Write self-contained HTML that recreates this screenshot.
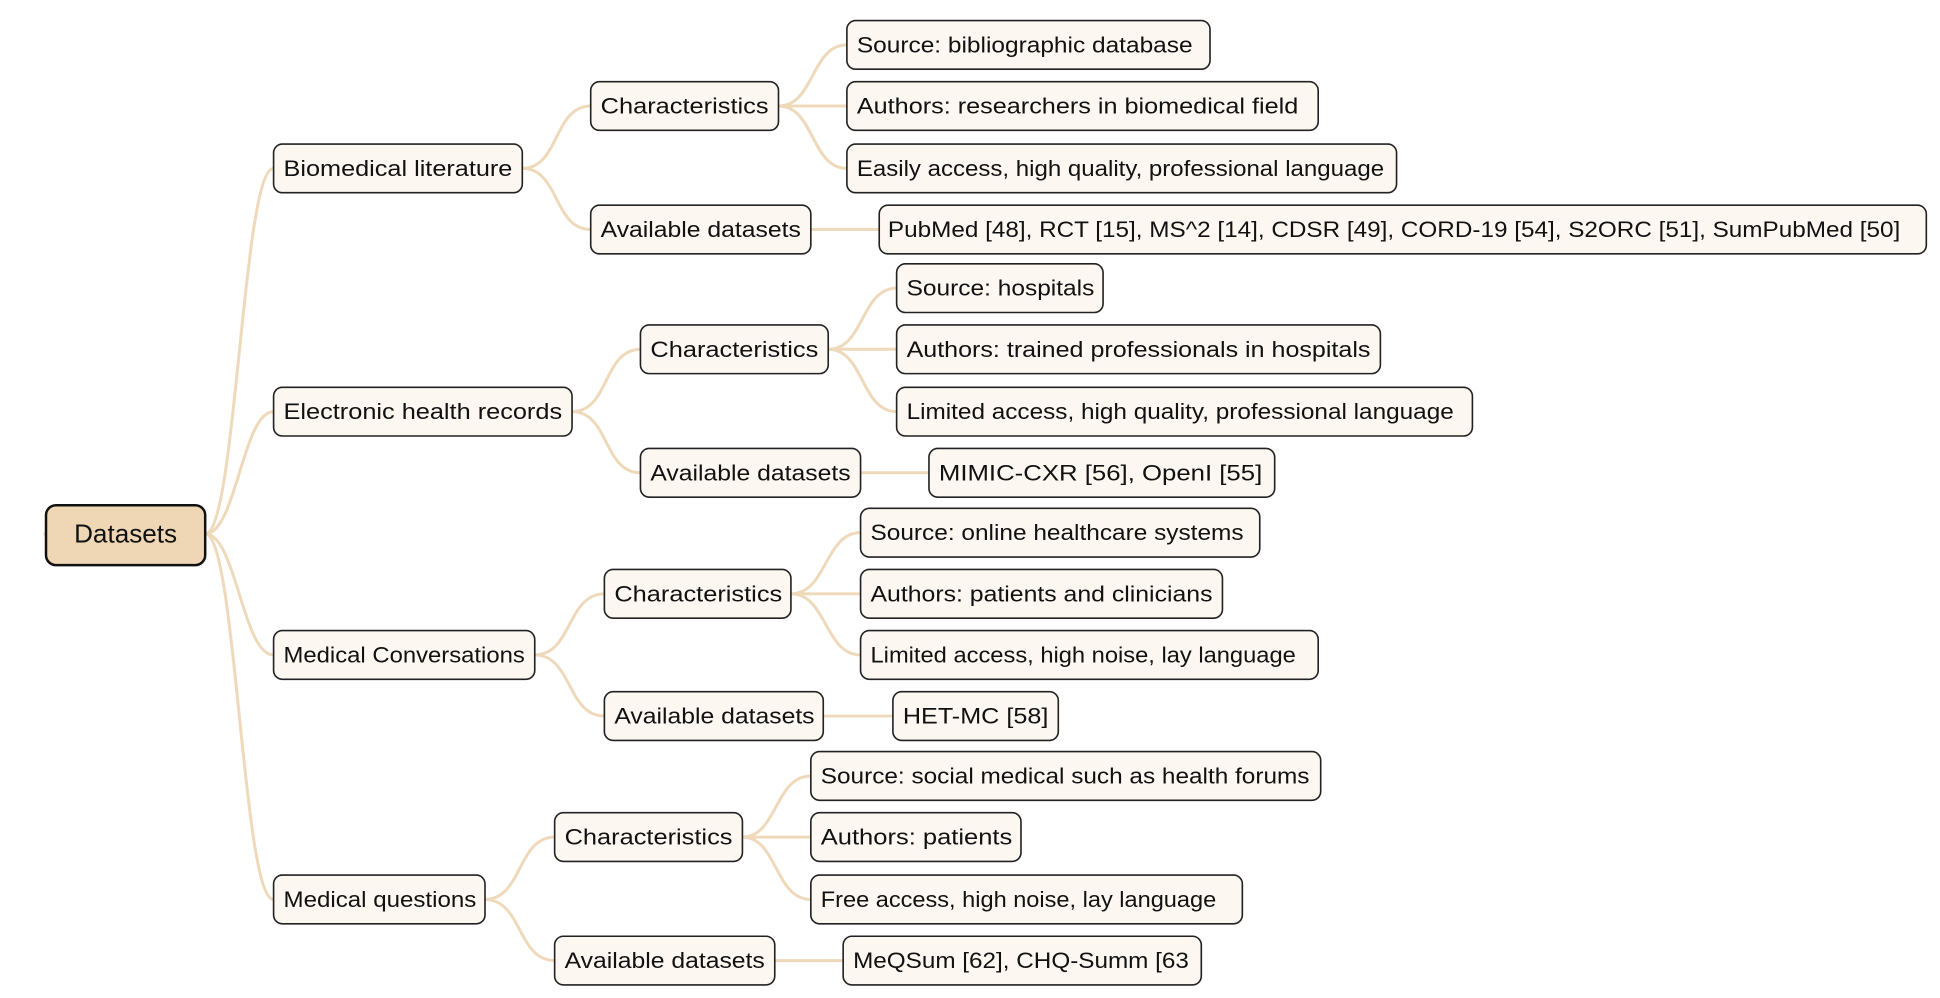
<!DOCTYPE html>
<html><head><meta charset="utf-8"><style>
html,body{margin:0;padding:0;background:#fff;}
svg{display:block;}
text{font-family:"Liberation Sans",sans-serif;font-size:18px;fill:#111;}
.b{fill:#fcf7f1;stroke:#222;stroke-width:1.3;}
.c{fill:none;stroke:#efd9bb;stroke-width:2.4;}
</style></head><body>
<svg width="1940" height="998" viewBox="0 0 1560 800" preserveAspectRatio="none">
<g class="c">
<path d="M165 428 C190 428,195 135,220 135"/>
<path d="M165 428 C190 428,195 330,220 330"/>
<path d="M165 428 C190 428,195 525,220 525"/>
<path d="M165 428 C190 428,195 721,220 721"/>
<path d="M35 428 L40 428"/>
<path d="M420 135 C450 135,445 85,475 85"/>
<path d="M420 135 C450 135,445 184,475 184"/>
<path d="M460 330 C490 330,485 280,515 280"/>
<path d="M460 330 C490 330,485 379,515 379"/>
<path d="M430 525 C460 525,456 476,486 476"/>
<path d="M430 525 C460 525,456 574,486 574"/>
<path d="M390 721 C420 721,416 671,446 671"/>
<path d="M390 721 C420 721,416 770,446 770"/>
<path d="M626 85 C655 85,652 36,681 36"/>
<path d="M626 85 L681 85"/>
<path d="M626 85 C655 85,652 135,681 135"/>
<path d="M652 184 L707 184"/>
<path d="M666 280 C695 280,692 231,721 231"/>
<path d="M666 280 L721 280"/>
<path d="M666 280 C695 280,692 330,721 330"/>
<path d="M692 379 L747 379"/>
<path d="M636 476 C665 476,663 427,692 427"/>
<path d="M636 476 L692 476"/>
<path d="M636 476 C665 476,663 525,692 525"/>
<path d="M662 574 L718 574"/>
<path d="M597 671 C625 671,623 622,652 622"/>
<path d="M597 671 L652 671"/>
<path d="M597 671 C625 671,623 721,652 721"/>
<path d="M623 770 L678 770"/>
</g>
<rect x="37" y="405" width="128" height="48" rx="8" fill="#efd6b5" stroke="#111" stroke-width="2"/>
<text x="101" y="435" text-anchor="middle" style="font-size:21px">Datasets</text>
<g>
<rect class="b" x="220" y="115.5" width="200" height="39" rx="7"/><text x="228" y="141" textLength="184" lengthAdjust="spacingAndGlyphs">Biomedical literature</text>
<rect class="b" x="220" y="310.5" width="240" height="39" rx="7"/><text x="228" y="336" textLength="224" lengthAdjust="spacingAndGlyphs">Electronic health records</text>
<rect class="b" x="220" y="505.5" width="210" height="39" rx="7"/><text x="228" y="531" textLength="194" lengthAdjust="spacingAndGlyphs">Medical Conversations</text>
<rect class="b" x="220" y="701.5" width="170" height="39" rx="7"/><text x="228" y="727" textLength="155" lengthAdjust="spacingAndGlyphs">Medical questions</text>

<rect class="b" x="475" y="65.5" width="151" height="39" rx="7"/><text x="483" y="91" textLength="135" lengthAdjust="spacingAndGlyphs">Characteristics</text>
<rect class="b" x="475" y="164.5" width="177" height="39" rx="7"/><text x="483" y="190" textLength="161" lengthAdjust="spacingAndGlyphs">Available datasets</text>
<rect class="b" x="515" y="260.5" width="151" height="39" rx="7"/><text x="523" y="286" textLength="135" lengthAdjust="spacingAndGlyphs">Characteristics</text>
<rect class="b" x="515" y="359.5" width="177" height="39" rx="7"/><text x="523" y="385" textLength="161" lengthAdjust="spacingAndGlyphs">Available datasets</text>
<rect class="b" x="486" y="456.5" width="150" height="39" rx="7"/><text x="494" y="482" textLength="135" lengthAdjust="spacingAndGlyphs">Characteristics</text>
<rect class="b" x="486" y="554.5" width="176" height="39" rx="7"/><text x="494" y="580" textLength="161" lengthAdjust="spacingAndGlyphs">Available datasets</text>
<rect class="b" x="446" y="651.5" width="151" height="39" rx="7"/><text x="454" y="677" textLength="135" lengthAdjust="spacingAndGlyphs">Characteristics</text>
<rect class="b" x="446" y="750.5" width="177" height="39" rx="7"/><text x="454" y="776" textLength="161" lengthAdjust="spacingAndGlyphs">Available datasets</text>

<rect class="b" x="681" y="16.5" width="292" height="39" rx="7"/><text x="689" y="42" textLength="270" lengthAdjust="spacingAndGlyphs">Source: bibliographic database</text>
<rect class="b" x="681" y="65.5" width="379" height="39" rx="7"/><text x="689" y="91" textLength="355" lengthAdjust="spacingAndGlyphs">Authors: researchers in biomedical field</text>
<rect class="b" x="681" y="115.5" width="442" height="39" rx="7"/><text x="689" y="141" textLength="424" lengthAdjust="spacingAndGlyphs">Easily access, high quality, professional language</text>
<rect class="b" x="707" y="164.5" width="842" height="39" rx="7"/><text x="714" y="190" textLength="814" lengthAdjust="spacingAndGlyphs">PubMed [48], RCT [15], MS^2 [14], CDSR [49], CORD-19 [54], S2ORC [51], SumPubMed [50]</text>

<rect class="b" x="721" y="211.5" width="166" height="39" rx="7"/><text x="729" y="237" textLength="151" lengthAdjust="spacingAndGlyphs">Source: hospitals</text>
<rect class="b" x="721" y="260.5" width="389" height="39" rx="7"/><text x="729" y="286" textLength="373" lengthAdjust="spacingAndGlyphs">Authors: trained professionals in hospitals</text>
<rect class="b" x="721" y="310.5" width="463" height="39" rx="7"/><text x="729" y="336" textLength="440" lengthAdjust="spacingAndGlyphs">Limited access, high quality, professional language</text>
<rect class="b" x="747" y="359.5" width="278" height="39" rx="7"/><text x="755" y="385" textLength="260" lengthAdjust="spacingAndGlyphs">MIMIC-CXR [56], OpenI [55]</text>

<rect class="b" x="692" y="407.5" width="321" height="39" rx="7"/><text x="700" y="433" textLength="300" lengthAdjust="spacingAndGlyphs">Source: online healthcare systems</text>
<rect class="b" x="692" y="456.5" width="291" height="39" rx="7"/><text x="700" y="482" textLength="275" lengthAdjust="spacingAndGlyphs">Authors: patients and clinicians</text>
<rect class="b" x="692" y="505.5" width="368" height="39" rx="7"/><text x="700" y="531" textLength="342" lengthAdjust="spacingAndGlyphs">Limited access, high noise, lay language</text>
<rect class="b" x="718" y="554.5" width="133" height="39" rx="7"/><text x="726" y="580" textLength="117" lengthAdjust="spacingAndGlyphs">HET-MC [58]</text>

<rect class="b" x="652" y="602.5" width="410" height="39" rx="7"/><text x="660" y="628" textLength="393" lengthAdjust="spacingAndGlyphs">Source: social medical such as health forums</text>
<rect class="b" x="652" y="651.5" width="169" height="39" rx="7"/><text x="660" y="677" textLength="154" lengthAdjust="spacingAndGlyphs">Authors: patients</text>
<rect class="b" x="652" y="701.5" width="347" height="39" rx="7"/><text x="660" y="727" textLength="318" lengthAdjust="spacingAndGlyphs">Free access, high noise, lay language</text>
<rect class="b" x="678" y="750.5" width="288" height="39" rx="7"/><text x="686" y="776" textLength="270" lengthAdjust="spacingAndGlyphs">MeQSum [62], CHQ-Summ [63</text>
</g>
</svg>
</body></html>
